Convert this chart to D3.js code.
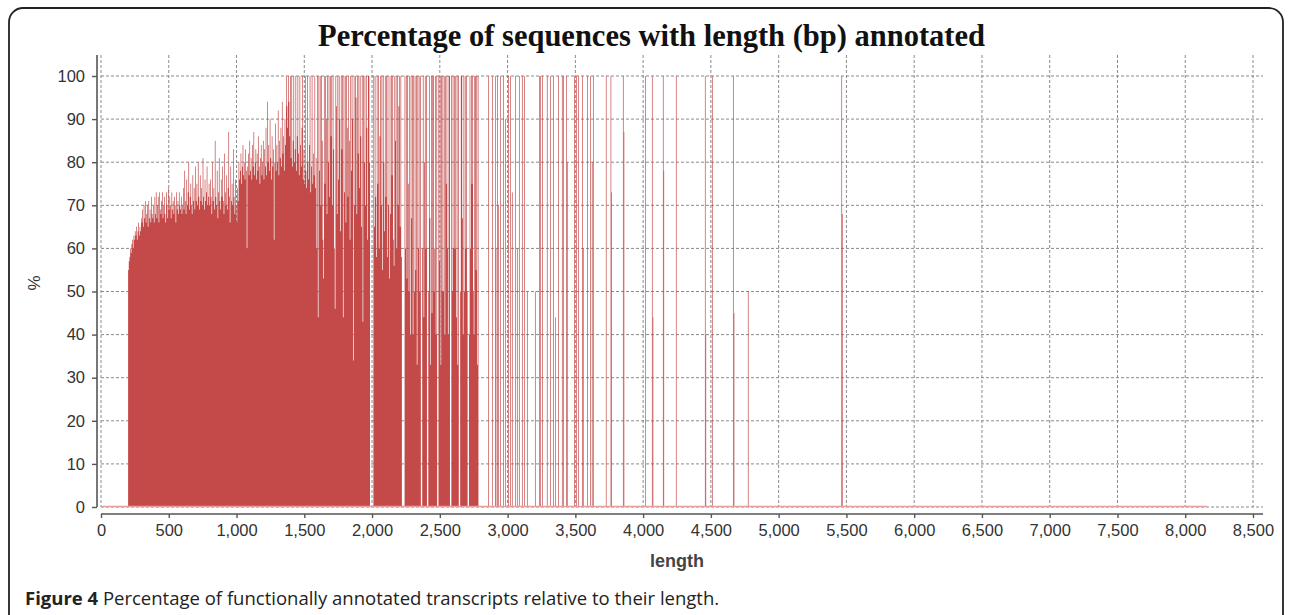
<!DOCTYPE html>
<html>
<head>
<meta charset="utf-8">
<script src="https://cdn.jsdelivr.net/npm/d3@7"></script>
<style>
  body { margin: 0; background: #fff; }
  svg { display: block; }
</style>
</head>
<body>
<div id="chart"></div>
<script>
// length bins (bp) for the dense part: one value every 5 bp from 200 bp
const binStart = 200;
const binWidth = 5;
const densePct = [
  55, 57, 58, 60, 59, 61, 62, 60, 63, 62, 64, 63, 65, 62, 64, 66, 63, 65, 64, 67,
  66, 69, 65, 70, 67, 71, 66, 68, 70, 65, 71, 67, 69, 66, 72, 68, 67, 70, 66, 72,
  68, 73, 67, 70, 72, 66, 73, 69, 68, 71, 73, 67, 70, 72, 68, 66, 73, 70, 67, 74,
  69, 72, 70, 67, 73, 69, 71, 68, 72, 70, 66, 73, 69, 71, 68, 73, 70, 69, 72, 68,
  70, 74, 69, 78, 71, 68, 76, 70, 73, 80, 69, 72, 75, 70, 68, 77, 71, 74, 69, 79,
  71, 75, 70, 80, 72, 69, 77, 71, 74, 70, 81, 72, 69, 76, 71, 73, 79, 70, 72, 75,
  70, 76, 72, 68, 80, 71, 74, 69, 85, 72, 70, 78, 67, 73, 81, 71, 69, 76, 72, 79,
  71, 68, 82, 73, 70, 77, 69, 74, 87, 72, 66, 79, 71, 75, 70, 83, 72, 68, 76, 70,
  66, 74, 71, 80, 76, 78, 82, 75, 79, 84, 77, 80, 76, 83, 78, 60, 79, 82, 77, 85,
  78, 81, 76, 84, 79, 87, 77, 80, 83, 76, 82, 78, 86, 79, 75, 81, 84, 77, 80, 85,
  76, 83, 79, 88, 77, 94, 80, 84, 78, 90, 81, 76, 86, 79, 83, 62, 80, 89, 78, 84,
  80, 92, 77, 85, 81, 88, 79, 94, 82, 86, 78, 90, 84, 100, 93, 88, 100, 94, 86, 100,
  81, 100, 79, 85, 100, 80, 83, 100, 78, 86, 100, 82, 77, 100, 84, 79, 88, 100, 76, 83,
  75, 100, 78, 74, 100, 80, 76, 84, 100, 73, 79, 100, 75, 82, 77, 100, 74, 81, 60, 100,
  44, 100, 78, 100, 70, 100, 85, 62, 53, 100, 75, 100, 90, 68, 100, 80, 100, 72, 100, 86,
  100, 70, 100, 83, 60, 46, 100, 93, 68, 100, 76, 100, 90, 64, 100, 83, 100, 44, 100, 73,
  100, 66, 100, 88, 72, 100, 85, 62, 100, 78, 100, 90, 34, 100, 70, 100, 95, 68, 100, 82,
  100, 74, 100, 86, 65, 100, 43, 100, 80, 100, 70, 100, 88, 62, 100, 100, 80, 0, 0, 0,
  0, 0, 100, 65, 100, 72, 58, 100, 75, 100, 60, 86, 100, 70, 100, 55, 100, 80, 64, 100,
  72, 100, 58, 100, 70, 53, 100, 68, 100, 77, 100, 62, 56, 100, 85, 100, 60, 100, 70, 93,
  100, 65, 100, 58, 0, 0, 0, 0, 100, 60, 100, 53, 100, 75, 50, 100, 40, 100, 67, 100,
  40, 100, 50, 100, 55, 100, 33, 100, 60, 100, 50, 100, 0, 0, 60, 100, 44, 80, 100, 60,
  100, 0, 0, 50, 100, 67, 33, 100, 45, 100, 100, 50, 60, 100, 40, 100, 0, 0, 100, 57,
  100, 33, 100, 50, 100, 50, 100, 40, 100, 75, 100, 60, 40, 100, 100, 0, 0, 100, 50, 100,
  60, 100, 60, 100, 44, 100, 33, 100, 0, 0, 50, 100, 100, 67, 40, 100, 50, 100, 60, 100,
  50, 0, 0, 40, 100, 60, 100, 75, 100, 50, 40, 100, 100, 55, 100, 33, 100, 0, 0, 0
];

// the isolated lengths after ~2800 bp
const sparseLengths = [
  2858, 2885, 2907, 2912, 2922, 2929, 2944, 2966, 2981, 3003,
  3018, 3032, 3055, 3069, 3084, 3106, 3121, 3143, 3202, 3232,
  3240, 3254, 3290, 3313, 3335, 3350, 3372, 3401, 3410, 3431,
  3438, 3490, 3505, 3520, 3549, 3556, 3586, 3608, 3622, 3630,
  3725, 3760, 3765, 3851, 3856, 4014, 4065, 4070, 4146, 4150,
  4242, 4456, 4460, 4508, 4663, 4668, 4773, 5463, 5467
];
const sparsePct = [
  100, 100, 100, 60, 100, 70, 100, 100, 90, 100,
  100, 73, 100, 60, 100, 100, 100, 50, 50, 100,
  100, 100, 100, 100, 100, 44, 100, 100, 100, 100,
  80, 100, 100, 100, 100, 60, 100, 100, 80, 100,
  100, 100, 73, 100, 87, 100, 100, 44, 100, 78,
  100, 100, 40, 100, 100, 45, 50, 100, 68
];

// zero line runs over the whole length range
const baselineExtent = [0, 8160];

const xTicks = [0, 500, 1000, 1500, 2000, 2500, 3000, 3500, 4000, 4500, 5000, 5500, 6000, 6500, 7000, 7500, 8000, 8500];
const yTicks = [0, 10, 20, 30, 40, 50, 60, 70, 80, 90, 100];

const W = 1290, H = 615;
const barColor = "#c44a4a";

const denseData = densePct.map((v, i) => ({len: binStart + i * binWidth, pct: v}));
// closing point so the last bin gets its width
denseData.push({len: binStart + densePct.length * binWidth, pct: 0});

const sparseData = sparseLengths.map((l, i) => ({len: l, pct: sparsePct[i]}));

const svg = d3.select("#chart")
  .append("svg")
    .attr("width", W)
    .attr("height", H);

// rounded frame of the figure
svg.append("rect")
  .attr("x", 9).attr("y", 8)
  .attr("width", 1274).attr("height", 700)
  .attr("rx", 14)
  .attr("fill", "none")
  .attr("stroke", "#222")
  .attr("stroke-width", 1.8);

const x = d3.scaleLinear().domain([0, 8500]).range([101, 1253]);
const y = d3.scaleLinear().domain([0, 100]).range([507, 76]);
const gridRight = 1263, gridTop = 55;

// dashed grid
const grid = svg.append("g")
  .attr("stroke", "#8a8a8a")
  .attr("stroke-width", 1)
  .attr("stroke-dasharray", "3,2");
grid.selectAll(".hg").data(yTicks).join("line")
  .attr("x1", x(0)).attr("x2", gridRight)
  .attr("y1", d => y(d)).attr("y2", d => y(d));
grid.selectAll(".vg").data(xTicks).join("line")
  .attr("x1", d => x(d)).attr("x2", d => x(d))
  .attr("y1", gridTop).attr("y2", y(0));

// dense part as a stepped area (no seams between bins)
svg.append("path")
  .datum(denseData)
  .attr("fill", barColor)
  .attr("d", d3.area()
    .curve(d3.curveStepAfter)
    .x(d => x(d.len))
    .y0(y(0))
    .y1(d => y(d.pct)));

// isolated lengths as thin bars
svg.append("g")
  .selectAll("rect")
  .data(sparseData)
  .join("rect")
    .attr("x", d => x(d.len))
    .attr("width", d => x(d.len + binWidth) - x(d.len))
    .attr("y", d => y(d.pct))
    .attr("height", d => y(0) - y(d.pct))
    .attr("fill", barColor);

// thin zero line
svg.append("line")
  .attr("x1", x(baselineExtent[0])).attr("x2", x(baselineExtent[1]))
  .attr("y1", y(0) - 0.5).attr("y2", y(0) - 0.5)
  .attr("stroke", "#e4a0a0")
  .attr("stroke-width", 1.5);

// Y axis
const axisColor = "#555";
const tickFont = "16.5px 'Liberation Sans', Arial, sans-serif";
const yAxis = svg.append("g")
  .attr("transform", "translate(97,0)")
  .call(d3.axisLeft(y).tickValues(yTicks).tickSize(5).tickPadding(7));
yAxis.select(".domain").remove();
yAxis.append("line")
  .attr("x1", 0).attr("x2", 0)
  .attr("y1", gridTop).attr("y2", y(0))
  .attr("stroke", axisColor).attr("stroke-width", 1.6);
yAxis.selectAll(".tick line").attr("stroke", axisColor).attr("stroke-width", 1.4);
yAxis.selectAll(".tick text")
  .attr("fill", "#333")
  .style("font", tickFont);

// X axis
const xAxis = svg.append("g")
  .attr("transform", "translate(0,514)")
  .call(d3.axisBottom(x).tickValues(xTicks).tickSize(4).tickPadding(6).tickFormat(d3.format(",")));
xAxis.select(".domain").remove();
xAxis.append("line")
  .attr("x1", x(0)).attr("x2", gridRight)
  .attr("stroke", axisColor).attr("stroke-width", 1.6);
xAxis.selectAll(".tick line").attr("stroke", axisColor).attr("stroke-width", 1.4);
xAxis.selectAll(".tick text")
  .attr("fill", "#333")
  .style("font", tickFont);

// axis titles
svg.append("text")
  .attr("x", (x(0) + x(8500)) / 2).attr("y", 567)
  .attr("text-anchor", "middle")
  .attr("fill", "#444")
  .style("font", "bold 18px 'Liberation Sans', Arial, sans-serif")
  .text("length");

svg.append("text")
  .attr("transform", "translate(40,283) rotate(-90)")
  .attr("text-anchor", "middle")
  .attr("fill", "#333")
  .style("font", "17px 'Liberation Sans', Arial, sans-serif")
  .text("%");

// chart title
svg.append("text")
  .attr("x", 318).attr("y", 46)
  .attr("fill", "#111")
  .style("font", "bold 30.5px 'Liberation Serif', 'Times New Roman', serif")
  .text("Percentage of sequences with length (bp) annotated");

// figure caption
const cap = svg.append("text")
  .attr("x", 25).attr("y", 605)
  .attr("fill", "#222")
  .style("font", "18.5px 'Open Sans', sans-serif");
cap.append("tspan").attr("font-weight", "bold").text("Figure 4");
cap.append("tspan").text(" Percentage of functionally annotated transcripts relative to their length.");
</script>
</body>
</html>
